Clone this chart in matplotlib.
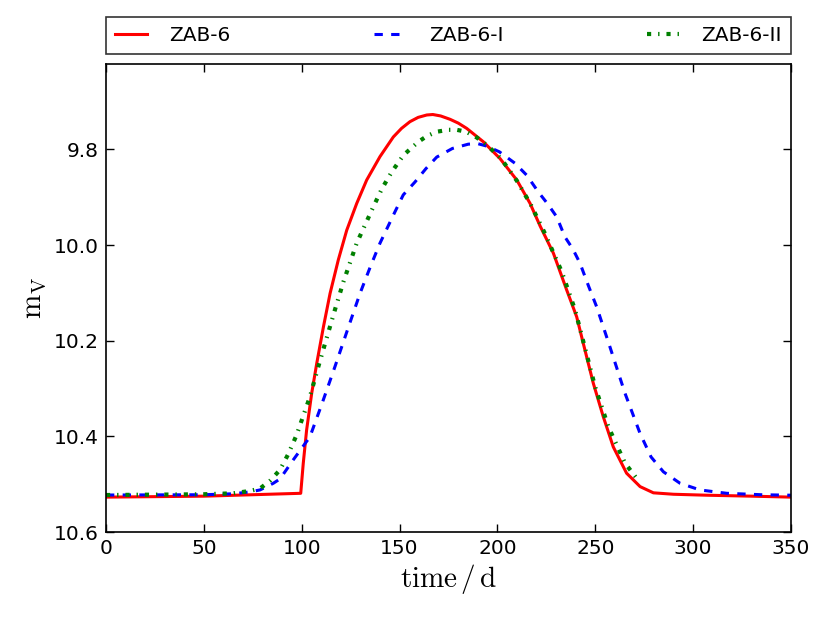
import matplotlib
matplotlib.use("Agg")
import matplotlib.pyplot as plt

plt.rcParams['mathtext.fontset'] = 'cm'
plt.rcParams['font.family'] = 'DejaVu Sans'
plt.rcParams['lines.scale_dashes'] = False

# ZAB-6
t_zab6 = [0, 50, 99.5, 100.8, 102.5, 105.1, 107.7, 111.1, 114.5, 118.7, 123.0, 128.1,
          133.2, 140.0, 146.8, 151, 155.3, 159.5, 163.9, 167, 171, 175.8, 180, 184.3,
          192.8, 201.3, 209.9, 216.7, 221.8, 228.6, 235.4, 240.5, 243.9, 249.0, 254.1,
          259.2, 266.0, 272.9, 279.7, 290, 306.9, 330, 350]
m_zab6 = [10.527, 10.525, 10.519, 10.456, 10.387, 10.310, 10.247, 10.171, 10.101,
          10.031, 9.969, 9.913, 9.864, 9.815, 9.774, 9.756, 9.742, 9.733, 9.728, 9.727,
          9.730, 9.737, 9.745, 9.756, 9.784, 9.819, 9.864, 9.913, 9.960, 10.017, 10.094,
          10.150, 10.206, 10.289, 10.359, 10.422, 10.477, 10.505, 10.518, 10.521, 10.523,
          10.525, 10.527]

# ZAB-6-I
t_zab6_1 = [0, 50, 65, 73.6, 78.7, 85.5, 88.9, 95.7, 104.2, 110.5, 117.0, 123.5, 129.8,
            135, 140.0, 147.7, 151.9, 157.9, 163.5, 169.0, 177, 185.1, 190, 194.5, 201,
            209.0, 215, 220.9, 225.5, 230.3, 234.5, 238.5, 242.2, 246.5, 250.7, 257.5,
            265.2, 272.9, 278.5, 284.8, 293.3, 303.5, 317.2, 335, 350]
m_zab6_1 = [10.5226, 10.522, 10.520, 10.516, 10.512, 10.498, 10.489, 10.449, 10.401,
            10.330, 10.254, 10.176, 10.101, 10.046, 9.996, 9.930, 9.895, 9.868, 9.840,
            9.816, 9.798, 9.789, 9.788, 9.793, 9.805, 9.829, 9.854, 9.889, 9.913, 9.941,
            9.983, 10.008, 10.038, 10.085, 10.129, 10.213, 10.310, 10.394, 10.443,
            10.474, 10.498, 10.512, 10.519, 10.522, 10.523]

# ZAB-6-II
t_zab6_2 = [0, 50, 65, 73.6, 78.7, 84, 88.9, 93, 97.4, 104.2, 108.5, 112.7, 117, 121.3,
            128.1, 136.6, 141, 146.0, 152, 159.6, 164, 169.0, 175, 179.2, 184, 189.4,
            195, 202, 210, 217, 224.3, 232.9, 239.7, 244.8, 249.9, 256.7, 265.2, 271.2]
m_zab6_2 = [10.5226, 10.521, 10.519, 10.514, 10.509, 10.492, 10.470, 10.438, 10.397,
            10.317, 10.254, 10.195, 10.135, 10.077, 9.996, 9.920, 9.882, 9.847, 9.812,
            9.784, 9.772, 9.763, 9.759, 9.759, 9.763, 9.775, 9.792, 9.820, 9.866, 9.915,
            9.976, 10.056, 10.136, 10.216, 10.296, 10.380, 10.456, 10.488]

fig = plt.figure(figsize=(8.3, 6.23), dpi=100)
ax = fig.add_axes([0.1277, 0.146, 0.8253, 0.7508])

ax.plot(t_zab6, m_zab6, '-', color='red', lw=2.2, label='ZAB-6')
ax.plot(t_zab6_1, m_zab6_1, color='blue', lw=2.2, ls=(0, (6, 6)), label='ZAB-6-I')
ax.plot(t_zab6_2, m_zab6_2, color='green', lw=3.0, ls=(0, (3, 5, 1, 5)),
        label='ZAB-6-II')

ax.set_xlim(0, 350)
ax.set_ylim(10.6, 9.622)
ax.set_yticks([9.8, 10.0, 10.2, 10.4, 10.6])
ax.set_xticks(range(0, 351, 50))
ax.yaxis.set_major_formatter(matplotlib.ticker.FormatStrFormatter('%.1f'))

ax.tick_params(direction='in', top=True, right=True, length=5.8, width=1,
               labelsize=14.5, pad=5)
for sp in ax.spines.values():
    sp.set_linewidth(1.2)

ax.set_xlabel(r'$\mathrm{time\,/\,d}$', fontsize=21, labelpad=3)
ax.set_ylabel(r'$\mathrm{m_V}$', fontsize=21, labelpad=4)

leg = ax.legend(bbox_to_anchor=(0., 1.022, 1., 0.08), loc='lower left', ncol=3,
                mode='expand', borderaxespad=0., fontsize=14.5, fancybox=False,
                handlelength=1.6, handletextpad=1.1, borderpad=0.45, frameon=True)
leg.get_frame().set_edgecolor('black')
leg.get_frame().set_linewidth(1.2)

fig.savefig('out.png', dpi=100)
